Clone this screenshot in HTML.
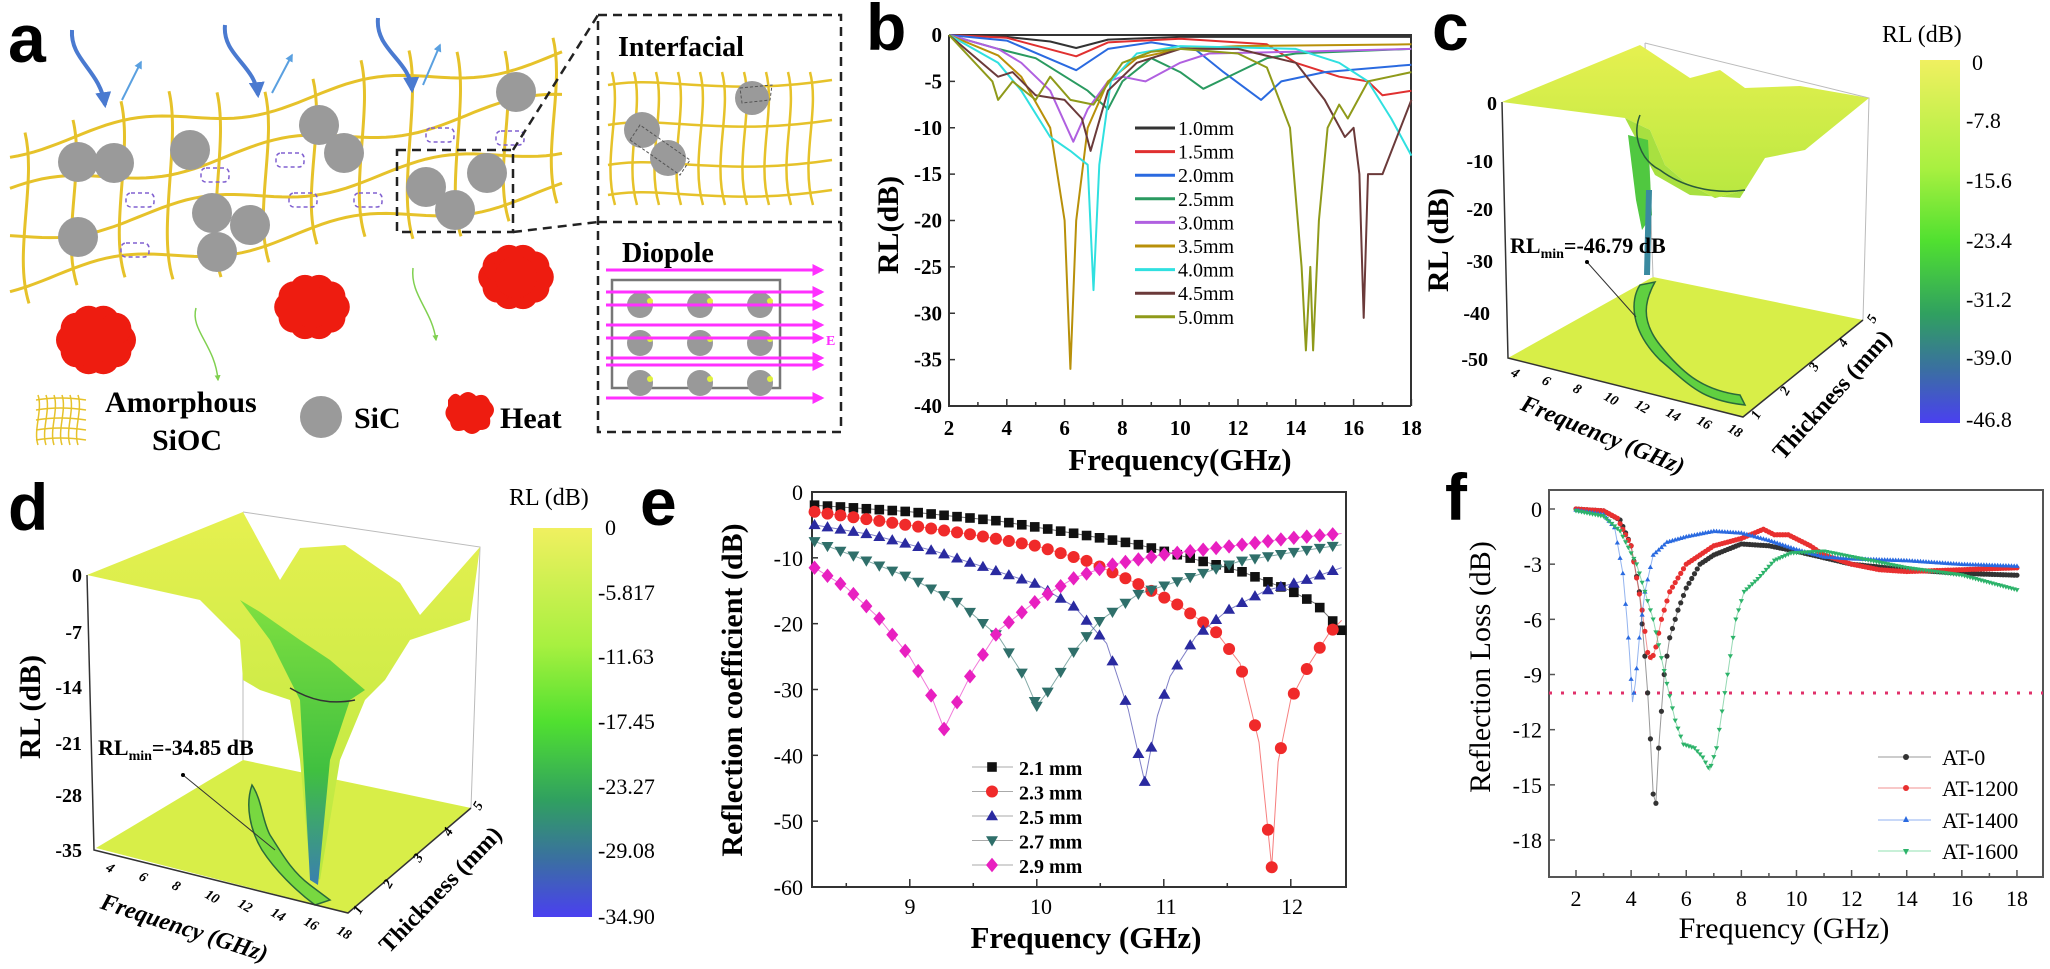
<!DOCTYPE html>
<html><head><meta charset="utf-8"><style>
html,body{margin:0;padding:0;background:#fff;}
svg{display:block;}
.L{font-family:"Liberation Sans",sans-serif;font-weight:bold;}
.S{font-family:"Liberation Serif",serif;}
.B{font-family:"Liberation Serif",serif;font-weight:bold;}
</style></head><body>
<svg id="s" width="2050" height="969" viewBox="0 0 2050 969" xmlns="http://www.w3.org/2000/svg">
<defs>
<linearGradient id="cb" x1="0" y1="0" x2="0" y2="1">
<stop offset="0" stop-color="#f0f060"/><stop offset="0.3" stop-color="#a8f040"/><stop offset="0.5" stop-color="#50e030"/><stop offset="0.7" stop-color="#30a060"/><stop offset="0.85" stop-color="#3a70a0"/><stop offset="1" stop-color="#4a40f0"/>
</linearGradient>
<linearGradient id="surf" x1="0" y1="0" x2="0" y2="1">
<stop offset="0" stop-color="#e6f050"/><stop offset="1" stop-color="#b8e840"/>
</linearGradient>
<linearGradient id="spk" x1="0" y1="0" x2="0" y2="1">
<stop offset="0" stop-color="#80e040"/><stop offset="0.6" stop-color="#40c040"/><stop offset="1" stop-color="#3a7fb0"/>
</linearGradient>
<marker id="ah" viewBox="0 0 10 10" refX="8" refY="5" markerWidth="4" markerHeight="4" orient="auto"><path d="M0,0L10,5L0,10z" fill="#ff30ff"/></marker>
<marker id="ab" viewBox="0 0 10 10" refX="8" refY="5" markerWidth="4" markerHeight="4" orient="auto"><path d="M0,0L10,5L0,10z" fill="#4a7ad0"/></marker>
<marker id="al" viewBox="0 0 10 10" refX="8" refY="5" markerWidth="4" markerHeight="4" orient="auto"><path d="M0,0L10,5L0,10z" fill="#5aa0e0"/></marker>
<marker id="ag" viewBox="0 0 10 10" refX="8" refY="5" markerWidth="4" markerHeight="4" orient="auto"><path d="M0,0L10,5L0,10z" fill="#80d050"/></marker>
</defs>

<!-- ================= Panel a ================= -->
<text x="8" y="62" class="L" font-size="68">a</text>
<g id="mesh" fill="none" stroke="#e6c22a" stroke-width="3"></g>
<g fill="#9a9a9a" id="circ"></g>
<g id="heat" fill="#ee1c10"></g>
<g fill="none" stroke-width="4" stroke="#4a7ad0" marker-end="url(#ab)">
<path d="M72,30 C70,60 100,70 105,105"/>
<path d="M225,25 C222,55 255,65 258,95"/>
<path d="M378,18 C375,50 410,60 412,90"/>
</g>
<g fill="none" stroke-width="2" stroke="#5aa0e0" marker-end="url(#al)">
<path d="M122,100 L141,62"/><path d="M272,93 L292,55"/><path d="M423,85 L440,45"/>
</g>
<g fill="none" stroke-width="1.5" stroke="#80d050" marker-end="url(#ag)">
<path d="M196,308 C190,330 215,345 218,380"/>
<path d="M413,268 C410,295 432,310 436,340"/>
</g>
<g fill="none" stroke="#222" stroke-width="2.5" stroke-dasharray="9,6">
<rect x="397" y="150" width="116" height="82"/>
<path d="M513,150 L598,15"/><path d="M513,232 L598,222"/>
<rect x="598" y="15" width="243" height="417"/>
<path d="M598,222 L841,222"/>
</g>
<text x="618" y="56" class="B" font-size="28">Interfacial</text>
<text x="622" y="262" class="B" font-size="28">Diopole</text>
<g id="imesh" fill="none" stroke="#e6c22a" stroke-width="2.5"></g>
<g fill="#9a9a9a"><circle cx="642" cy="130" r="18"/><circle cx="668" cy="158" r="18"/><circle cx="752" cy="98" r="17"/></g>
<g fill="none" stroke="#555" stroke-dasharray="3,2" stroke-width="1"><path d="M630,140 L680,175 L690,160 L640,125z"/><path d="M740,88 L772,85 L770,100 L742,103z"/></g>
<rect x="612" y="280" width="168" height="108" fill="none" stroke="#777" stroke-width="2.5"/>
<g fill="#999" id="dip"></g>
<g stroke="#ff30ff" stroke-width="3" marker-end="url(#ah)" id="ear"></g>
<text x="826" y="345" class="B" font-size="14" fill="#ff30ff">E</text>
<g fill="none" stroke="#e6c22a" stroke-width="1.5" id="legm"></g>
<text x="105" y="412" class="B" font-size="30">Amorphous</text>
<text x="152" y="450" class="B" font-size="30">SiOC</text>
<circle cx="321" cy="417" r="21" fill="#9a9a9a"/>
<text x="354" y="428" class="B" font-size="30">SiC</text>
<path d="M448,400 q6,-10 12,-4 q8,-8 16,0 q10,-4 14,6 q8,8 0,16 q2,12 -10,12 q-8,8 -16,0 q-12,4 -14,-8 q-8,-8 -2,-16 z" fill="#ee1c10"/>
<text x="500" y="428" class="B" font-size="30">Heat</text>

<!-- ================= Panel b ================= -->
<text x="866" y="50" class="L" font-size="66">b</text>
<g stroke="#333" stroke-width="2" fill="none">
<path d="M949,35 L949,406 L1411,406"/>
<path d="M949,35 L1411,35 L1411,406"/>
</g>
<g id="bticks" stroke="#333" stroke-width="1.5"></g>
<g class="B" font-size="21" text-anchor="end" id="bylab"></g>
<g class="B" font-size="21" text-anchor="middle" id="bxlab"></g>
<text transform="translate(898,225) rotate(-90)" class="B" font-size="30" text-anchor="middle">RL(dB)</text>
<text x="1180" y="470" class="B" font-size="31" text-anchor="middle">Frequency(GHz)</text>
<g id="bcurves" fill="none" stroke-width="2"></g>
<g id="bleg"></g>

<!-- ================= Panel c ================= -->
<text x="1432" y="50" class="L" font-size="66">c</text>
<g stroke="#bbb" stroke-width="1" fill="none">
<path d="M1645,43 L1869,98 L1863,320"/><path d="M1645,43 L1653,277"/>
</g>
<path d="M1508,358 L1653,277 L1863,320 L1743,417 Z" fill="#d8ee48"/>
<path d="M1640,285 C1630,300 1630,330 1660,360 C1690,385 1700,400 1745,405 L1740,395 C1700,390 1680,370 1660,345 C1640,320 1645,300 1655,282 Z" fill="#60d040" stroke="#2a6a3a" stroke-width="1.5"/>
<path d="M1502,102 L1640,45 L1690,78 L1720,70 L1745,88 L1800,86 L1869,98 L1805,150 L1765,158 L1745,190 L1715,198 L1685,182 L1665,165 L1650,130 L1625,118 Z" fill="url(#surf)"/>
<path d="M1625,118 L1650,130 L1665,165 L1685,182 L1715,198 L1745,190 L1740,198 L1690,195 L1655,175 Z" fill="#a8e040"/>
<path d="M1628,135 L1648,140 L1652,215 L1642,230 L1636,200 Z" fill="#50c840"/>
<path d="M1646,190 L1652,190 L1650,275 L1644,275 Z" fill="#3a8aa0"/>
<path d="M1640,115 C1632,135 1640,160 1660,170 C1680,185 1710,195 1745,190" fill="none" stroke="#2a5a3a" stroke-width="1.5"/>
<g stroke="#333" stroke-width="1.5" fill="none"><path d="M1502,102 L1508,358 L1743,417 L1863,320"/></g>
<g class="B" font-size="20" text-anchor="end">
<text x="1497" y="110">0</text><text x="1493" y="168">-10</text><text x="1493" y="216">-20</text><text x="1493" y="268">-30</text><text x="1490" y="320">-40</text><text x="1488" y="366">-50</text>
</g>
<text transform="translate(1448,240) rotate(-90)" class="B" font-size="30" text-anchor="middle">RL (dB)</text>
<text x="1510" y="253" class="B" font-size="22">RL<tspan font-size="14" dy="5">min</tspan><tspan dy="-5">=-46.79 dB</tspan></text>
<path d="M1587,262 L1636,317" stroke="#333" stroke-width="1"/><circle cx="1587" cy="262" r="2"/>
<g class="B" font-size="14" font-style="italic" id="cfx"></g>
<text transform="translate(1600,442) rotate(22)" class="B" font-size="24" font-style="italic" text-anchor="middle">Frequency (GHz)</text>
<text transform="translate(1838,400) rotate(-48)" class="B" font-size="24" text-anchor="middle">Thickness (mm)</text>
<rect x="1920" y="60" width="40" height="363" fill="url(#cb)"/>
<text x="1882" y="42" class="S" font-size="24">RL (dB)</text>
<g class="S" font-size="22"><text x="1972" y="70">0</text><text x="1966" y="128">-7.8</text><text x="1966" y="188">-15.6</text><text x="1966" y="248">-23.4</text><text x="1966" y="307">-31.2</text><text x="1966" y="365">-39.0</text><text x="1966" y="427">-46.8</text></g>

<!-- ================= Panel d ================= -->
<text x="8" y="530" class="L" font-size="66">d</text>
<g stroke="#bbb" stroke-width="1" fill="none">
<path d="M243,512 L480,547 L471,808"/><path d="M243,512 L243,760"/>
</g>
<path d="M96,848 L243,760 L471,808 L348,913 Z" fill="#d8ee48"/>
<path d="M252,785 C262,800 262,820 270,835 C280,850 290,870 310,885 L330,900 L315,905 C295,890 275,870 262,850 C250,830 245,805 252,785 Z" fill="#78d840" stroke="#2a6a3a" stroke-width="1.5"/>
<path d="M87,575 L243,512 L280,580 L300,548 L345,545 L400,583 L420,615 L480,547 L470,620 L410,640 L385,680 L365,700 L340,760 L320,880 L310,870 L300,760 L290,700 L260,690 L243,680 L240,640 L200,600 Z" fill="url(#surf)"/>
<path d="M240,600 L270,640 L300,700 L310,880 L318,885 L330,760 L350,700 L365,690 L330,660 L300,640 L260,612 Z" fill="url(#spk)"/>
<path d="M290,688 C310,700 330,705 355,700" stroke="#333" stroke-width="1.5" fill="none"/>
<g stroke="#333" stroke-width="1.5" fill="none"><path d="M87,575 L94,850 L348,913 L471,808"/></g>
<g class="B" font-size="20" text-anchor="end">
<text x="82" y="582">0</text><text x="82" y="639">-7</text><text x="82" y="694">-14</text><text x="82" y="750">-21</text><text x="82" y="802">-28</text><text x="82" y="857">-35</text>
</g>
<text transform="translate(40,707) rotate(-90)" class="B" font-size="30" text-anchor="middle">RL (dB)</text>
<text x="98" y="755" class="B" font-size="22">RL<tspan font-size="14" dy="5">min</tspan><tspan dy="-5">=-34.85 dB</tspan></text>
<path d="M183,775 L275,850" stroke="#333" stroke-width="1"/><circle cx="183" cy="775" r="2"/>
<g class="B" font-size="14" font-style="italic" id="dfx"></g>
<text transform="translate(182,935) rotate(18)" class="B" font-size="24" font-style="italic" text-anchor="middle">Frequency (GHz)</text>
<text transform="translate(446,895) rotate(-46)" class="B" font-size="24" text-anchor="middle">Thickness (mm)</text>
<rect x="533" y="528" width="59" height="389" fill="url(#cb)"/>
<text x="509" y="505" class="S" font-size="24">RL (dB)</text>
<g class="S" font-size="22"><text x="605" y="535">0</text><text x="598" y="600">-5.817</text><text x="598" y="664">-11.63</text><text x="598" y="729">-17.45</text><text x="598" y="794">-23.27</text><text x="598" y="858">-29.08</text><text x="598" y="924">-34.90</text></g>

<!-- ================= Panel e ================= -->
<text x="640" y="525" class="L" font-size="66">e</text>
<rect x="812" y="492" width="534" height="395" fill="none" stroke="#333" stroke-width="2"/>
<g id="eticks" stroke="#333" stroke-width="1.5"></g>
<g class="S" font-size="22" text-anchor="end" id="eylab"></g>
<g class="S" font-size="22" text-anchor="middle"><text x="910" y="914">9</text><text x="1041" y="914">10</text><text x="1166" y="914">11</text><text x="1292" y="914">12</text></g>
<text transform="translate(742,690) rotate(-90)" class="B" font-size="30" text-anchor="middle">Reflection coefficient (dB)</text>
<text x="1086" y="948" class="B" font-size="31" text-anchor="middle">Frequency (GHz)</text>
<g id="ecurves"></g>
<g id="eleg"></g>

<!-- ================= Panel f ================= -->
<text x="1445" y="520" class="L" font-size="66">f</text>
<rect x="1549" y="490" width="494" height="387" fill="none" stroke="#555" stroke-width="2"/>
<g id="fticks" stroke="#555" stroke-width="1.5"></g>
<g class="S" font-size="22" text-anchor="end" id="fylab"></g>
<g class="S" font-size="22" text-anchor="middle" id="fxlab"></g>
<text transform="translate(1490,667) rotate(-90)" class="S" font-size="30" text-anchor="middle">Reflection Loss (dB)</text>
<text x="1784" y="938" class="S" font-size="30" text-anchor="middle">Frequency (GHz)</text>
<line x1="1549" y1="693" x2="2043" y2="693" stroke="#e0306a" stroke-width="3" stroke-dasharray="3,9"/>
<g id="fcurves"></g>
<g class="S" font-size="22">
<line x1="1878" y1="757" x2="1931" y2="757" stroke="#999"/><circle cx="1906" cy="757" r="3" fill="#333"/><text x="1942" y="765">AT-0</text>
<line x1="1878" y1="788" x2="1931" y2="788" stroke="#f09090"/><circle cx="1906" cy="788" r="3" fill="#e83030"/><text x="1942" y="796">AT-1200</text>
<line x1="1878" y1="820" x2="1931" y2="820" stroke="#90b0f0"/><path d="M1906,816 l3,6 h-6z" fill="#2a6ae0"/><text x="1942" y="828">AT-1400</text>
<line x1="1878" y1="851" x2="1931" y2="851" stroke="#90e0b0"/><path d="M1906,855 l3,-6 h-6z" fill="#2db36a"/><text x="1942" y="859">AT-1600</text>
</g>
</svg>
<script>
(function(){
var NS="http://www.w3.org/2000/svg";
function el(p,t,a){var e=document.createElementNS(NS,t);for(var k in a)e.setAttribute(k,a[k]);p.appendChild(e);return e;}
function G(id){return document.getElementById(id);}
function interp(pts,f){if(f<=pts[0][0])return pts[0][1];for(var i=1;i<pts.length;i++){if(f<=pts[i][0]){var a=pts[i-1],b=pts[i];return a[1]+(b[1]-a[1])*(f-a[0])/(b[0]-a[0]);}}return pts[pts.length-1][1];}
var m=G('mesh');
function wy(x,o){return o-0.17*x+9*Math.sin(x/38+o/20);}
[150,195,240,285].forEach(function(o){var d="";for(var x=10;x<=565;x+=8){d+=(x==10?"M":"L")+x+","+wy(x,o).toFixed(1);}el(m,'path',{d:d});});
for(var x=25;x<560;x+=48){var y1=wy(x,140)-12,y2=wy(x,295)+10;el(m,'path',{d:"M"+x+","+y1+" C"+(x+12)+","+(y1+50)+" "+(x-12)+","+(y2-50)+" "+(x+4)+","+y2});}
var c=G('circ');[[78,162],[114,163],[190,150],[319,125],[344,153],[516,92],[78,237],[212,213],[250,225],[217,252],[426,187],[487,173],[455,210]].forEach(function(p){el(c,'circle',{cx:p[0],cy:p[1],r:20});});
var dd=[[140,200],[215,175],[290,160],[135,250],[303,200],[440,135],[510,138],[368,200]];
dd.forEach(function(p){el(m,'rect',{x:p[0]-14,y:p[1]-7,width:28,height:14,rx:5,stroke:"#8060d0","stroke-width":1.5,"stroke-dasharray":"4,3"});});
var h=G('heat');[[96,340,40,32],[312,307,38,30],[516,277,38,30]].forEach(function(p){for(var i=0;i<10;i++){var a=i/10*6.283;el(h,'circle',{cx:p[0]+Math.cos(a)*p[2]*0.6,cy:p[1]+Math.sin(a)*p[3]*0.6,r:p[3]*0.5});}el(h,'circle',{cx:p[0],cy:p[1],r:p[3]*0.7});});
var im=G('imesh');for(var x=612;x<=830;x+=22){el(im,'path',{d:"M"+x+",72 C"+(x+10)+",110 "+(x-10)+",160 "+(x+3)+",205"});}
[85,125,165,195].forEach(function(y){el(im,'path',{d:"M608,"+y+" C660,"+(y-10)+" 720,"+(y+12)+" 832,"+(y-5)});});
var dp=G('dip');[640,700,760].forEach(function(x){[305,343,383].forEach(function(y){el(dp,'circle',{cx:x,cy:y,r:13});el(dp,'circle',{cx:x+10,cy:y-4,r:3,fill:"#e0f040"});});});
var ea=G('ear');[270,292,305,325,338,358,365,398].forEach(function(y){el(ea,'line',{x1:606,y1:y,x2:822,y2:y});});
var lm=G('legm');for(var x=38;x<=84;x+=8){el(lm,'path',{d:"M"+x+",395 C"+(x+5)+",410 "+(x-5)+",430 "+x+",445"});}for(var y=400;y<=440;y+=10){el(lm,'path',{d:"M36,"+y+" Q60,"+(y-4)+" 86,"+y});}
var bx=function(f){return 949+28.9*(f-2);},by=function(v){return 35-v*9.275;};
var bt=G('bticks'),byl=G('bylab'),bxl=G('bxlab');
for(var v=0;v>=-40;v-=5){el(bt,'line',{x1:949,y1:by(v),x2:955,y2:by(v)});el(byl,'text',{x:942,y:by(v)+7}).textContent=v;}
for(var f=2;f<=18;f+=1){el(bt,'line',{x1:bx(f),y1:406,x2:bx(f),y2:f%2?402:399});if(f%2==0)el(bxl,'text',{x:bx(f),y:435}).textContent=f;}
var B=[
["#333",[[2,0],[4,-0.2],[5.5,-0.7],[6.4,-1.4],[7.5,-0.5],[10,-0.2],[18,-0.2]],"1.0mm"],
["#e03030",[[2,0],[4,-0.3],[6.4,-2.3],[7.5,-0.8],[10,-0.4],[13,-1],[14,-3],[15.5,-4.5],[16.5,-5],[17,-6.5],[18,-6]],"1.5mm"],
["#2a6ae0",[[2,0],[4,-0.6],[6.4,-3.8],[7.5,-1.5],[9,-0.8],[10.5,-1.5],[11.5,-4],[12.8,-7],[13.5,-5],[15,-4],[18,-3.2]],"2.0mm"],
["#2a9a60",[[2,0],[3.7,-1.5],[5,-2.5],[6.8,-6],[7.5,-8],[8,-5],[9,-2.5],[10,-4],[10.8,-5.8],[12,-4],[13,-2.5],[14,-2],[18,-1.5]],"2.5mm"],
["#b060e0",[[2,0],[3.7,-1.5],[4.5,-3],[5.5,-6],[6.3,-11.5],[6.8,-8],[7.5,-5],[8,-4.5],[8.8,-5],[10,-3],[11,-2],[14,-1.8],[18,-1.5]],"3.0mm"],
["#b8900a",[[2,0],[3.7,-2.2],[4.5,-4.5],[5.5,-10],[6.0,-20],[6.2,-36],[6.4,-20],[6.8,-10],[7.5,-5],[8.5,-2.5],[10,-1.5],[12,-1.2],[18,-1]],"3.5mm"],
["#30e0e0",[[2,0],[3.7,-3],[4.5,-6],[5.5,-11],[6.2,-12.5],[6.8,-14],[7.0,-27.5],[7.2,-14],[7.6,-5],[8.5,-2],[10,-1.2],[14,-1.5],[15.5,-3],[16.5,-5],[17.3,-9],[18,-13]],"4.0mm"],
["#6b3a3a",[[2,0],[3.7,-4.5],[4.2,-4],[5,-6.5],[6,-7],[6.6,-9],[6.9,-12.5],[7.5,-6],[8.5,-3],[10,-1.5],[12,-1.5],[14,-3],[15,-7],[15.7,-11],[16,-10],[16.2,-15],[16.35,-30.5],[16.5,-15],[17,-15],[18,-7]],"4.5mm"],
["#8f9a1a",[[2,0],[3.5,-5],[3.7,-7],[4.2,-5],[5,-7],[5.5,-4.5],[6.2,-7],[7,-7.5],[8,-3],[9,-1.8],[10,-1.5],[12,-2],[13,-3.5],[13.8,-10],[14.2,-25],[14.35,-34],[14.5,-25],[14.6,-34],[14.8,-20],[15.1,-10],[15.5,-7.5],[15.8,-9],[16.5,-5],[18,-4]],"5.0mm"]];
var bc=G('bcurves'),bl=G('bleg');
B.forEach(function(s,i){var d="";s[1].forEach(function(p,j){d+=(j?"L":"M")+bx(p[0]).toFixed(1)+","+by(p[1]).toFixed(1);});el(bc,'path',{d:d,stroke:s[0],"stroke-linejoin":"round"});
var y=128+i*23.6;el(bl,'line',{x1:1135,y1:y,x2:1175,y2:y,stroke:s[0],"stroke-width":3});var t=el(bl,'text',{x:1178,y:y+7,"class":"S","font-size":20});t.textContent=s[2];});
var cf=G('cfx');[4,6,8,10,12,14,16,18].forEach(function(f,i){var t=el(cf,'text',{transform:"translate("+(1510+i*31)+","+(375+i*8)+") rotate(30)"});t.textContent=f;});
var df=G('dfx');[4,6,8,10,12,14,16,18].forEach(function(f,i){var t=el(df,'text',{transform:"translate("+(105+i*33)+","+(870+i*9)+") rotate(30)"});t.textContent=f;});
[1,2,3,4,5].forEach(function(v,i){el(cf,'text',{transform:"translate("+(1758+i*29)+","+(420-i*24)+") rotate(-60)"}).textContent=v;el(df,'text',{transform:"translate("+(360+i*30)+","+(915-i*26)+") rotate(-60)"}).textContent=v;});
var ex=function(f){return 812+127*(f-8.23);},ey=function(v){return 492-v*6.583;};
var et=G('eticks'),eyl=G('eylab');
for(var v=0;v>=-60;v-=10){el(et,'line',{x1:812,y1:ey(v),x2:818,y2:ey(v)});el(eyl,'text',{x:803,y:ey(v)+8}).textContent=v;}
for(var f=8.5;f<12.5;f+=0.5){el(et,'line',{x1:ex(f),y1:887,x2:ex(f),y2:(f%1==0)?879:883});}
var E=[
["#111","sq",[[8.25,-2],[9.0,-3],[9.7,-4.4],[10.3,-6.3],[10.8,-8],[11.2,-10],[11.6,-12],[12.0,-15],[12.2,-17],[12.4,-21]],"2.1 mm"],
["#f02a2a","ci",[[8.25,-3],[8.8,-4.5],[9.5,-6.5],[10.0,-8.2],[10.4,-10.5],[10.8,-14],[11.1,-17],[11.4,-21],[11.6,-26],[11.75,-38],[11.85,-57],[11.9,-41],[12.0,-31.5],[12.15,-26],[12.3,-21.5],[12.4,-19.5]],"2.3 mm"],
["#2a2aa0","tu",[[8.25,-5],[8.7,-6.5],[9.2,-9],[9.6,-11.5],[10.0,-14],[10.3,-17.5],[10.55,-23],[10.72,-33],[10.85,-44],[10.95,-34],[11.05,-28],[11.25,-22],[11.5,-18],[11.8,-15],[12.1,-13.5],[12.4,-11.5]],"2.5 mm"],
["#2f6f6a","td",[[8.25,-7.5],[8.6,-10],[9.0,-13],[9.4,-17],[9.7,-22],[9.9,-28],[10.0,-32.5],[10.1,-30],[10.3,-24],[10.5,-19.5],[10.8,-15.5],[11.2,-13],[11.6,-10.5],[12.0,-9.2],[12.4,-8]],"2.7 mm"],
["#e820c0","di",[[8.25,-11.5],[8.5,-14.5],[8.75,-19],[9.0,-25],[9.15,-30],[9.27,-36],[9.37,-32],[9.5,-27],[9.7,-21],[10.0,-16.5],[10.3,-13],[10.6,-11],[11.0,-9.5],[11.5,-8.3],[12.0,-7],[12.4,-6.3]],"2.9 mm"]];
function mk(p,type,x,y,col,s){s=s||6;if(type=="sq")el(p,'rect',{x:x-s*0.8,y:y-s*0.8,width:s*1.6,height:s*1.6,fill:col});else if(type=="ci")el(p,'circle',{cx:x,cy:y,r:s,fill:col});else if(type=="tu")el(p,'path',{d:"M"+x+","+(y-s)+"l"+s+","+(s*1.7)+"h"+(-2*s)+"z",fill:col});else if(type=="td")el(p,'path',{d:"M"+x+","+(y+s)+"l"+s+","+(-s*1.7)+"h"+(-2*s)+"z",fill:col});else el(p,'path',{d:"M"+x+","+(y-s*1.2)+"l"+s+","+s*1.2+"l"+(-s)+","+s*1.2+"l"+(-s)+","+(-s*1.2)+"z",fill:col});}
var ec=G('ecurves'),elg=G('eleg');
E.forEach(function(s,i){var d="";s[2].forEach(function(p,j){d+=(j?"L":"M")+ex(p[0]).toFixed(1)+","+ey(p[1]).toFixed(1);});el(ec,'path',{d:d,stroke:s[0],"stroke-width":1,fill:"none","stroke-opacity":0.6});
for(var f=8.25;f<=12.41;f+=0.102){mk(ec,s[1],ex(f),ey(interp(s[2],f)),s[0],6);}
var mn=s[2].reduce(function(a,b){return b[1]<a[1]?b:a;});mk(ec,s[1],ex(mn[0]),ey(mn[1]),s[0],6);
var y=767+i*24.5;el(elg,'line',{x1:972,y1:y,x2:1013,y2:y,stroke:"#aaa"});mk(elg,s[1],992,y,s[0],6);el(elg,'text',{x:1019,y:y+8,"class":"B","font-size":20}).textContent=s[3];});
var fx=function(f){return 1576+27.56*(f-2);},fy=function(v){return 509-v*18.39;};
var ft=G('fticks'),fyl=G('fylab'),fxl=G('fxlab');
for(var v=0;v>=-18;v-=3){el(ft,'line',{x1:1549,y1:fy(v),x2:1555,y2:fy(v)});el(fyl,'text',{x:1542,y:fy(v)+8}).textContent=v;}
for(var f=2;f<=18;f+=1){el(ft,'line',{x1:fx(f),y1:877,x2:fx(f),y2:f%2?873:870});if(f%2==0)el(fxl,'text',{x:fx(f),y:906}).textContent=f;}
var F=[
["#333","ci",[[2,0],[3,-0.1],[3.6,-0.6],[4.0,-2],[4.3,-4.5],[4.5,-8],[4.6,-10],[4.7,-12.5],[4.8,-15.5],[4.9,-16],[5.0,-13],[5.1,-11],[5.2,-9],[5.4,-7],[5.7,-5.5],[6.0,-4.3],[6.5,-3],[7,-2.5],[8,-1.9],[9,-2],[10,-2.3],[12,-3],[14,-3.3],[16,-3.5],[18,-3.6]]],
["#e83030","ci",[[2,0],[3,-0.1],[3.5,-0.5],[4,-2],[4.4,-5.5],[4.6,-7.8],[4.75,-8.2],[4.9,-7.5],[5.1,-6],[5.4,-4.5],[6,-3],[7,-2],[8,-1.6],[8.8,-1.1],[9.2,-1.4],[9.7,-1.4],[10.5,-2],[11,-2.5],[12,-3],[13,-3.3],[14,-3.4],[16,-3.3],[18,-3.2]]],
["#2a6ae0","tu",[[2,-0.05],[3,-0.3],[3.4,-1],[3.7,-3.5],[3.85,-6],[3.95,-8],[4.05,-10.5],[4.15,-9.5],[4.3,-7],[4.5,-4.5],[4.8,-2.5],[5.3,-1.8],[6,-1.5],[7,-1.2],[8,-1.3],[9,-1.7],[10,-2.2],[11,-2.6],[12,-2.7],[14,-2.8],[16,-3],[18,-3.1]]],
["#2db36a","td",[[2,-0.1],[3,-0.4],[3.6,-1.2],[4.2,-3],[4.8,-6],[5.3,-9.5],[5.6,-11.5],[5.9,-12.8],[6.3,-13],[6.6,-13.5],[6.85,-14.2],[7.1,-13],[7.3,-11],[7.5,-9],[7.8,-6],[8.1,-4.5],[8.6,-3.8],[9.2,-2.8],[9.8,-2.4],[11,-2.3],[12,-2.6],[14,-3.2],[16,-3.6],[18,-4.4]]]];
var fc=G('fcurves');
F.forEach(function(s){var d="";s[2].forEach(function(p,j){d+=(j?"L":"M")+fx(p[0]).toFixed(1)+","+fy(p[1]).toFixed(1);});el(fc,'path',{d:d,stroke:s[0],"stroke-width":1,fill:"none","stroke-opacity":0.5});
for(var f=2;f<=18.01;f+=0.1){mk(fc,s[1],fx(f),fy(interp(s[2],f)),s[0],2.6);}});
})();
</script>
</body></html>
